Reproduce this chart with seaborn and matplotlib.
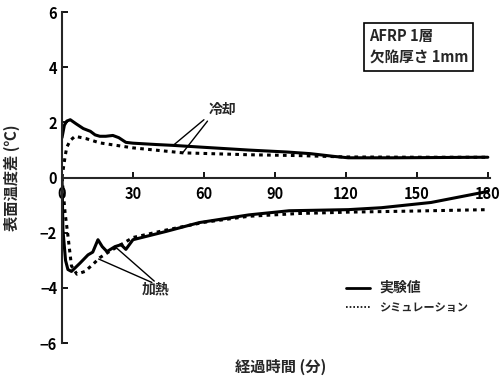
import pandas as pd
import matplotlib.pyplot as plt
import seaborn as sns


# 冷却 (cooling) - 実験値
cool_exp_t = [0, 1, 2, 3.5, 6, 9, 12, 14, 16, 18.5, 21.5, 24, 27, 30, 40, 47, 60, 79, 95, 105, 115, 121, 140, 160, 180]
cool_exp_v = [1.45, 1.9, 2.05, 2.1, 1.95, 1.78, 1.68, 1.55, 1.5, 1.5, 1.53, 1.45, 1.28, 1.25, 1.2, 1.17, 1.1, 1.0, 0.93, 0.87, 0.77, 0.72, 0.72, 0.73, 0.74]
# 冷却 - シミュレーション
cool_sim_t = [0, 1.3, 2, 3.5, 5.5, 10, 16, 30, 51, 79, 100, 120, 150, 180]
cool_sim_v = [0.0, 0.76, 1.1, 1.35, 1.5, 1.42, 1.26, 1.08, 0.9, 0.83, 0.8, 0.75, 0.74, 0.74]
# 加熱 (heating) - 実験値
heat_exp_t = [0, 0.4, 1.5, 2.5, 4, 7.6, 11, 13, 15.2, 17, 19, 22.4, 25, 27, 30, 44, 58, 79, 96, 121, 135, 156, 180]
heat_exp_v = [0.0, -1.9, -3.0, -3.33, -3.4, -3.1, -2.8, -2.7, -2.25, -2.5, -2.68, -2.5, -2.43, -2.6, -2.25, -1.95, -1.63, -1.35, -1.2, -1.16, -1.09, -0.9, -0.5]
# 加熱 - シミュレーション
heat_sim_t = [0, 1.3, 2.5, 4, 6.3, 9.7, 13, 16, 20, 30, 44, 60, 79, 100, 121, 143, 180]
heat_sim_v = [0.0, -1.27, -2.1, -3.2, -3.5, -3.4, -3.15, -2.9, -2.68, -2.17, -1.9, -1.62, -1.4, -1.3, -1.25, -1.22, -1.16]

LABEL_EXP = "実験値"
LABEL_SIM = "シミュレーション"


def build_frame():
	parts = []
	for t, v, kind, grp in [
		(cool_exp_t, cool_exp_v, LABEL_EXP, "cool_exp"),
		(cool_sim_t, cool_sim_v, LABEL_SIM, "cool_sim"),
		(heat_exp_t, heat_exp_v, LABEL_EXP, "heat_exp"),
		(heat_sim_t, heat_sim_v, LABEL_SIM, "heat_sim"),
	]:
		parts.append(pd.DataFrame({"t": t, "v": v, "kind": kind, "grp": grp}))
	return pd.concat(parts, ignore_index=True)


def main():
	sns.set_style("ticks")
	plt.rcParams["font.family"] = ["Noto Sans CJK JP", "DejaVu Sans"]
	plt.rcParams["font.weight"] = "bold"

	df = build_frame()
	fig = plt.figure(figsize=(5.02, 3.8), dpi=100)
	ax = fig.add_axes([0.1235, 0.097, 0.853, 0.871])

	sns.lineplot(
		data=df, x="t", y="v", hue="kind", style="kind", units="grp",
		estimator=None, palette={LABEL_EXP: "black", LABEL_SIM: "black"},
		dashes={LABEL_EXP: "", LABEL_SIM: (1.2, 1.4)},
		linewidth=2.2, ax=ax, legend=False
	)

	ax.set_xlim(0, 181)
	ax.set_ylim(-6, 6)
	ax.set_xticks([0, 30, 60, 90, 120, 150, 180])
	ax.set_yticks([-6, -4, -2, 0, 2, 4, 6])
	ax.spines["bottom"].set_position(("data", 0))
	ax.spines["right"].set_visible(False)
	ax.spines["top"].set_visible(False)
	ax.spines["left"].set_linewidth(1.5)
	ax.spines["bottom"].set_linewidth(1.5)
	ax.tick_params(axis="both", direction="in", length=4, width=1.3, labelsize=10.5, colors="black")
	ax.tick_params(axis="x", pad=6)
	for lbl in ax.get_xticklabels() + ax.get_yticklabels():
		lbl.set_fontweight("bold")
	ax.set_yticklabels(["−6", "−4", "−2", "0", "2", "4", "6"])

	ax.set_xlabel("")
	ax.set_ylabel("表面温度差 (℃)", fontsize=11, fontweight="bold", labelpad=14)
	fig.text(0.56, 0.035, "経過時間 (分)", ha="center", va="center", fontsize=11, fontweight="bold")

	# annotations
	ax.text(62, 2.45, "冷却", fontsize=10, fontweight="bold", ha="left", va="center")
	ax.plot([60, 47], [2.1, 1.17], color="black", lw=1.0)
	ax.plot([61.5, 51], [2.05, 0.9], color="black", lw=1.0)
	ax.text(33.5, -4.05, "加熱", fontsize=10, fontweight="bold", ha="left", va="center")
	ax.plot([39, 22.4], [-3.75, -2.5], color="black", lw=1.0)
	ax.plot([38, 15.5], [-3.8, -2.95], color="black", lw=1.0)

	# info box
	ax.text(130, 4.75, "AFRP 1層\n欠陥厚さ 1mm", fontsize=10.5, fontweight="bold",
		ha="left", va="center", linespacing=1.45,
		bbox=dict(boxstyle="square,pad=0.35", fc="white", ec="black", lw=1.2))

	# legend
	ax.plot([120, 130], [-4.0, -4.0], color="black", lw=2.0)
	ax.plot([120, 130], [-4.7, -4.7], color="black", lw=1.2, ls=(0, (1, 1.2)))
	ax.text(134, -4.0, LABEL_EXP, fontsize=10, fontweight="bold", va="center")
	ax.text(134, -4.7, LABEL_SIM, fontsize=8, fontweight="bold", va="center")

	fig.savefig("out.png", dpi=100)


if __name__ == "__main__":
	main()
